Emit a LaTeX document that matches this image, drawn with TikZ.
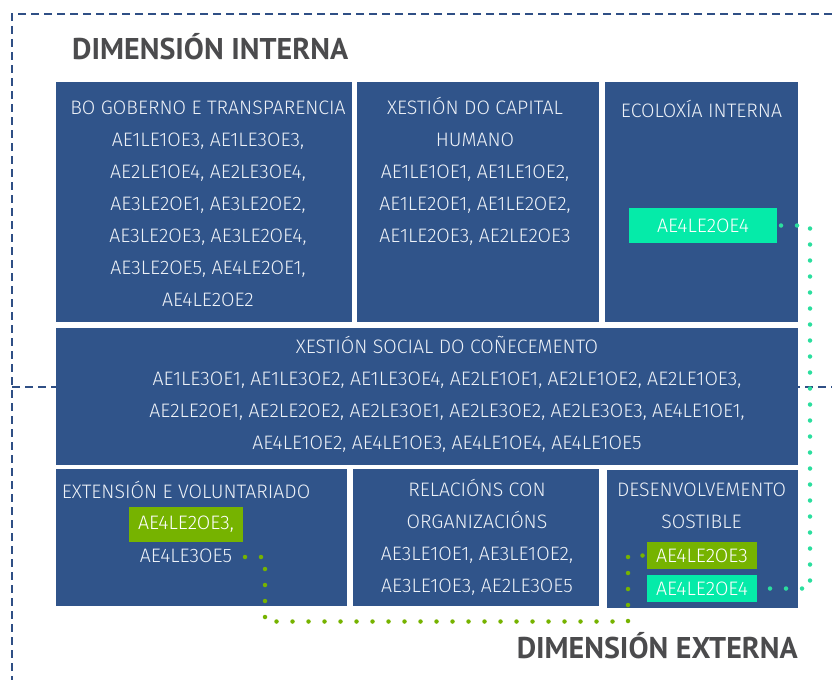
\documentclass[tikz,border=0pt]{standalone}
\usepackage{fontspec}
\newfontfamily\boxfont{Fira Sans Light}
\newfontfamily\headfont{PT Sans}
\usetikzlibrary{calc}
\definecolor{boxblue}{HTML}{30548A}
\definecolor{dashblue}{HTML}{2F4F85}
\definecolor{txt}{HTML}{EEF2F8}
\definecolor{leaf}{HTML}{76B300}
\definecolor{mint}{HTML}{05EBA9}
\definecolor{mintdot}{HTML}{2BDE9E}
\definecolor{headgray}{HTML}{4B4B4D}
\newcommand\fst{\rule{0pt}{18pt}}
\begin{document}
\begin{tikzpicture}[x=1pt,y=-1pt,
  box/.style={fill=boxblue, draw=none, inner sep=0pt, outer sep=0pt, anchor=north west},
  btext/.style={font=\boxfont\fontsize{19.5}{32}\selectfont, text=txt, align=center, inner sep=0pt, anchor=north},
  bline/.style={font=\boxfont\fontsize{19.5}{32}\selectfont, text=txt, inner sep=0pt, anchor=base},
  hl/.style={inner sep=0pt, outer sep=0pt, anchor=north west, font=\boxfont\fontsize{19.5}{22}\selectfont, text=white},
  dashline/.style={dashblue, line width=2pt, dash pattern=on 8pt off 5pt},
  dots/.style={line width=4.5pt, line cap=round, dash pattern=on 0pt off 16pt},
  heading/.style={font=\headfont\bfseries\fontsize{30}{32}\selectfont, text=headgray, inner sep=0pt}
]
\useasboundingbox (0,0) rectangle (832,680);
% frames
\draw[dashline] (832,14) -- (12,14) -- (12,680);
\draw[dashline] (12,386.5) -- (832,386.5);
% headings
\node[heading, anchor=base west] (hint) at (72,59) {DIMENSIÓN INTERNA};
\node[heading, anchor=base east] (hext) at (798,658) {DIMENSIÓN EXTERNA};
% row 1
\node[box, minimum width=296pt, minimum height=240pt] (b1) at (56,82) {};
\node[box, minimum width=242pt, minimum height=240pt] (b2) at (357,82) {};
\node[box, minimum width=193pt, minimum height=240pt] (b3) at (605,82) {};
% row 2
\node[box, minimum width=742pt, minimum height=137pt] (b4) at (56,328) {};
% row 3
\node[box, minimum width=291pt, minimum height=137pt] (b5) at (56,469) {};
\node[box, minimum width=246pt, minimum height=137pt] (b6) at (353,469) {};
\node[box, minimum width=191pt, minimum height=138pt] (b7) at (607,470) {};
% texts
\node[btext] (t1) at (208,96) {\fst BO GOBERNO E TRANSPARENCIA\\AE1LE1OE3, AE1LE3OE3,\\AE2LE1OE4, AE2LE3OE4,\\AE3LE2OE1, AE3LE2OE2,\\AE3LE2OE3, AE3LE2OE4,\\AE3LE2OE5, AE4LE2OE1,\\AE4LE2OE2};
\node[btext] (t2) at (475,96) {\fst XESTIÓN DO CAPITAL\\HUMANO\\AE1LE1OE1, AE1LE1OE2,\\AE1LE2OE1, AE1LE2OE2,\\AE1LE2OE3, AE2LE2OE3};
\node[bline] (t3) at (701.5,117) {ECOLOXÍA INTERNA};
\node[hl, fill=mint, minimum width=148pt, minimum height=35pt] (eco4) at (629,208) {AE4LE2OE4};
\node[btext] (t4) at (447,335) {\fst XESTIÓN SOCIAL DO COÑECEMENTO\\AE1LE3OE1, AE1LE3OE2, AE1LE3OE4, AE2LE1OE1, AE2LE1OE2, AE2LE1OE3,\\AE2LE2OE1, AE2LE2OE2, AE2LE3OE1, AE2LE3OE2, AE2LE3OE3, AE4LE1OE1,\\AE4LE1OE2, AE4LE1OE3, AE4LE1OE4, AE4LE1OE5};
\node[bline] (t5) at (186,498) {EXTENSIÓN E VOLUNTARIADO};
\node[hl, fill=leaf, minimum width=114pt, minimum height=35pt] (ext3) at (129,507) {AE4LE2OE3,};
\node[bline] (t5b) at (186,562) {AE4LE3OE5};
\node[btext] (t6) at (477,478) {\fst RELACIÓNS CON\\ORGANIZACIÓNS\\AE3LE1OE1, AE3LE1OE2,\\AE3LE1OE3, AE2LE3OE5};
\node[btext] (t7) at (701.5,478) {\fst DESENVOLVEMENTO\\SOSTIBLE};
\node[hl, fill=leaf, minimum width=110pt, minimum height=27pt] (des3) at (647,542) {AE4LE2OE3};
\node[hl, fill=mint, minimum width=110pt, minimum height=27pt] (des4) at (647,575) {AE4LE2OE4};
% connectors
\coordinate (ext5) at (245,557);
\draw[dots, mintdot] ($(eco4.east)+(4,0)$) -| ($(des4.east)+(53,0)$) -- ($(des4.east)+(3,0)$);
\draw[dots, leaf] (ext5) -- ++(20,0) |- ($(des3.west)+(-19,66)$) -- ($(des3.west)+(-19,0)$) -- ($(des3.west)+(-2,0)$);
\end{tikzpicture}
\end{document}
